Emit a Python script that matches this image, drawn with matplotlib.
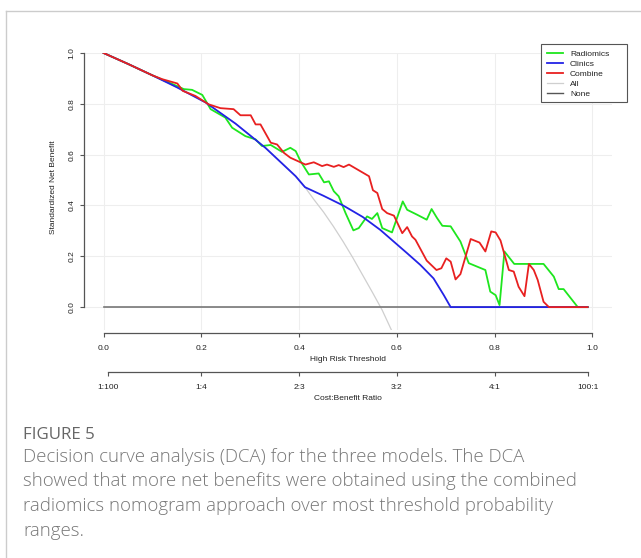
import matplotlib
matplotlib.use("Agg")
import matplotlib.pyplot as plt
from matplotlib.lines import Line2D
from matplotlib.patches import Rectangle

# ---------------- data ----------------
radiomics_x = [0, 0.05, 0.10, 0.12, 0.154, 0.164, 0.181, 0.202, 0.219, 0.249, 0.263, 0.290,
               0.311, 0.324, 0.342, 0.365, 0.382, 0.393, 0.403, 0.420, 0.440, 0.451, 0.461,
               0.471, 0.481, 0.495, 0.511, 0.522, 0.539, 0.549, 0.560, 0.570, 0.590, 0.612,
               0.621, 0.641, 0.661, 0.671, 0.682, 0.693, 0.710, 0.730, 0.747, 0.781, 0.791,
               0.802, 0.810, 0.820, 0.840, 0.900, 0.921, 0.931, 0.941, 0.970, 0.99]
radiomics_y = [1.0, 0.957, 0.912, 0.895, 0.867, 0.858, 0.855, 0.835, 0.779, 0.746, 0.706, 0.673,
               0.660, 0.634, 0.638, 0.611, 0.627, 0.614, 0.574, 0.522, 0.526, 0.491, 0.495,
               0.456, 0.436, 0.370, 0.302, 0.311, 0.357, 0.347, 0.370, 0.311, 0.294, 0.416,
               0.383, 0.364, 0.344, 0.386, 0.351, 0.320, 0.318, 0.258, 0.173, 0.146, 0.061,
               0.047, 0.008, 0.219, 0.170, 0.170, 0.120, 0.071, 0.071, 0.0, 0.0]

clinics_x = [0, 0.05, 0.10, 0.15, 0.209, 0.27, 0.331, 0.393, 0.412, 0.45, 0.491, 0.53,
             0.566, 0.621, 0.648, 0.675, 0.696, 0.710, 0.99]
clinics_y = [1.0, 0.957, 0.912, 0.865, 0.805, 0.722, 0.627, 0.515, 0.472, 0.438, 0.399, 0.355,
             0.304, 0.212, 0.166, 0.113, 0.047, 0.0, 0.0]

combine_x = [0, 0.05, 0.10, 0.12, 0.151, 0.162, 0.188, 0.215, 0.239, 0.266, 0.280, 0.301,
             0.311, 0.321, 0.342, 0.355, 0.369, 0.382, 0.413, 0.430, 0.447, 0.457, 0.471,
             0.481, 0.491, 0.502, 0.543, 0.551, 0.560, 0.570, 0.580, 0.594, 0.611, 0.621,
             0.631, 0.638, 0.661, 0.681, 0.691, 0.701, 0.710, 0.720, 0.730, 0.751, 0.769,
             0.781, 0.793, 0.802, 0.812, 0.829, 0.839, 0.849, 0.861, 0.870, 0.880, 0.888,
             0.900, 0.911, 0.99]
combine_y = [1.0, 0.957, 0.912, 0.897, 0.880, 0.851, 0.831, 0.798, 0.783, 0.779, 0.755, 0.755,
             0.719, 0.719, 0.647, 0.640, 0.607, 0.588, 0.561, 0.570, 0.555, 0.561, 0.552,
             0.559, 0.551, 0.561, 0.515, 0.460, 0.449, 0.386, 0.370, 0.360, 0.291, 0.315,
             0.278, 0.265, 0.183, 0.146, 0.153, 0.192, 0.179, 0.109, 0.130, 0.268, 0.254,
             0.219, 0.298, 0.294, 0.262, 0.146, 0.140, 0.080, 0.043, 0.170, 0.146, 0.107,
             0.021, 0.0, 0.0]

all_x = [0, 0.05, 0.10, 0.15, 0.209, 0.27, 0.331, 0.393, 0.412, 0.43, 0.45, 0.47, 0.49,
         0.51, 0.53, 0.55, 0.57, 0.59, 0.61]
all_y = [1.0, 0.957, 0.912, 0.865, 0.805, 0.722, 0.627, 0.515, 0.472, 0.424, 0.374, 0.318,
         0.258, 0.194, 0.126, 0.058, -0.012, -0.095, -0.19]

none_x = [0, 0.99]
none_y = [0, 0]

threshold_ticks = [0.0, 0.2, 0.4, 0.6, 0.8, 1.0]
threshold_labels = ["0.0", "0.2", "0.4", "0.6", "0.8", "1.0"]
cb_ticks = [1 / 101, 0.2, 0.4, 0.6, 0.8, 100 / 101]
cb_labels = ["1:100", "1:4", "2:3", "3:2", "4:1", "100:1"]
y_ticks = [0.0, 0.2, 0.4, 0.6, 0.8, 1.0]
y_labels = ["0.0", "0.2", "0.4", "0.6", "0.8", "1.0"]

series_names = ["Radiomics", "Clinics", "Combine", "All", "None"]

caption_title = "FIGURE 5"
caption_lines = [
    "Decision curve analysis (DCA) for the three models. The DCA",
    "showed that more net benefits were obtained using the combined",
    "radiomics nomogram approach over most threshold probability",
    "ranges.",
]

# ---------------- figure ----------------
W, H = 641, 558
fig = plt.figure(figsize=(W / 100, H / 100), dpi=100)
plt.rcParams['font.family'] = ['Liberation Sans', 'DejaVu Sans']

def fx(px):
    return px / W

def fy(py):
    return 1 - py / H

# card border (top and left)
fig.add_artist(Line2D([fx(6), 1.0], [fy(11), fy(11)], color='#cccccc', lw=1.0))
fig.add_artist(Line2D([fx(6), fx(6)], [fy(11), 0.0], color='#cccccc', lw=1.0))

left, right, top, bottom = 84, 612, 53, 330
ax = fig.add_axes([fx(left), fy(bottom), (right - left) / W, (bottom - top) / H])
ax.set_xlim(-0.04, 1.04)
ax.set_ylim(-0.09, 1.0)

# grid
for gx in threshold_ticks:
    ax.axvline(gx, color='#eeeeee', lw=0.8, zorder=0)
for gy in y_ticks:
    ax.axhline(gy, color='#eeeeee', lw=0.8, zorder=0)

c_green, c_blue, c_red = '#1ee61e', '#2323e6', '#e82020'
ax.plot(all_x, all_y, color='#cfcfcf', lw=0.9, zorder=2)
ax.plot(none_x, none_y, color='#777777', lw=1.2, zorder=2)
ax.plot(radiomics_x, radiomics_y, color=c_green, lw=1.3, zorder=3)
ax.plot(clinics_x, clinics_y, color=c_blue, lw=1.3, zorder=4)
ax.plot(combine_x, combine_y, color=c_red, lw=1.3, zorder=5)

for s in ['top', 'right']:
    ax.spines[s].set_visible(False)
ax.spines['left'].set_bounds(0, 1)
ax.spines['left'].set_color('#555555')
ax.spines['left'].set_linewidth(0.9)
ax.spines['bottom'].set_bounds(0, 1)
ax.spines['bottom'].set_position(('outward', 2.2))
ax.spines['bottom'].set_color('#555555')
ax.spines['bottom'].set_linewidth(0.9)

ax.set_yticks(y_ticks)
ax.set_yticklabels(y_labels, rotation=90, va='center')
ax.set_xticks(threshold_ticks)
ax.set_xticklabels(threshold_labels)
ax.tick_params(axis='both', direction='out', length=3, width=0.8, color='#555555',
               labelsize=6, labelcolor='#222222')
ax.tick_params(axis='x', pad=5.5)
ax.tick_params(axis='y', pad=3)

ax.set_xlabel("High Risk Threshold", fontsize=6, color='#222222')
ax.xaxis.set_label_coords(0.5, -0.094)
ax.set_ylabel("Standardized Net Benefit", fontsize=6, color='#222222')
ax.yaxis.set_label_coords(-0.052, 0.515)

# second (cost:benefit) axis
ax2 = ax.twiny()
ax2.set_xlim(ax.get_xlim())
ax2.xaxis.set_ticks_position('bottom')
ax2.xaxis.set_label_position('bottom')
for s in ['top', 'right', 'left']:
    ax2.spines[s].set_visible(False)
ax2.spines['bottom'].set_position(('outward', 42 * 0.72))
ax2.spines['bottom'].set_bounds(cb_ticks[0], cb_ticks[-1])
ax2.spines['bottom'].set_color('#555555')
ax2.spines['bottom'].set_linewidth(0.9)
ax2.set_xticks(cb_ticks)
ax2.set_xticklabels(cb_labels)
ax2.tick_params(axis='x', direction='out', length=3, width=0.8, color='#555555',
                labelsize=6, labelcolor='#222222', pad=5.5)
ax2.set_xlabel("Cost:Benefit Ratio", fontsize=6, color='#222222')
ax2.xaxis.set_label_coords(0.5, -0.235)

# legend (box drawn separately to match the wide R legend frame)
fig.add_artist(Rectangle((fx(541), fy(102)), (627 - 541) / W, (102 - 44) / H,
                         transform=fig.transFigure, facecolor='white',
                         edgecolor='#555555', lw=0.8, zorder=10))
handles = [Line2D([], [], color=c_green, lw=1.3),
           Line2D([], [], color=c_blue, lw=1.3),
           Line2D([], [], color=c_red, lw=1.3),
           Line2D([], [], color='#cfcfcf', lw=0.9),
           Line2D([], [], color='#555555', lw=1.0)]
leg = fig.legend(handles, series_names, loc='upper left',
                 bbox_to_anchor=(fx(542), fy(45)), fontsize=6, frameon=False,
                 handlelength=1.9, handletextpad=0.85, labelspacing=0.27,
                 borderpad=0.6, borderaxespad=0)
leg.set_zorder(11)
for t in leg.get_texts():
    t.set_color('#222222')

# caption
fig.text(fx(23), fy(439), caption_title, fontsize=12.2, color='#666666',
         family=['Open Sans', 'DejaVu Sans'], va='baseline', ha='left')
for i, line in enumerate(caption_lines):
    fig.text(fx(23), fy(462 + 24.5 * i), line, fontsize=13.4, color='#777777',
             family=['Open Sans', 'DejaVu Sans'], fontweight='light',
             va='baseline', ha='left')

fig.savefig("out.png", dpi=100)
